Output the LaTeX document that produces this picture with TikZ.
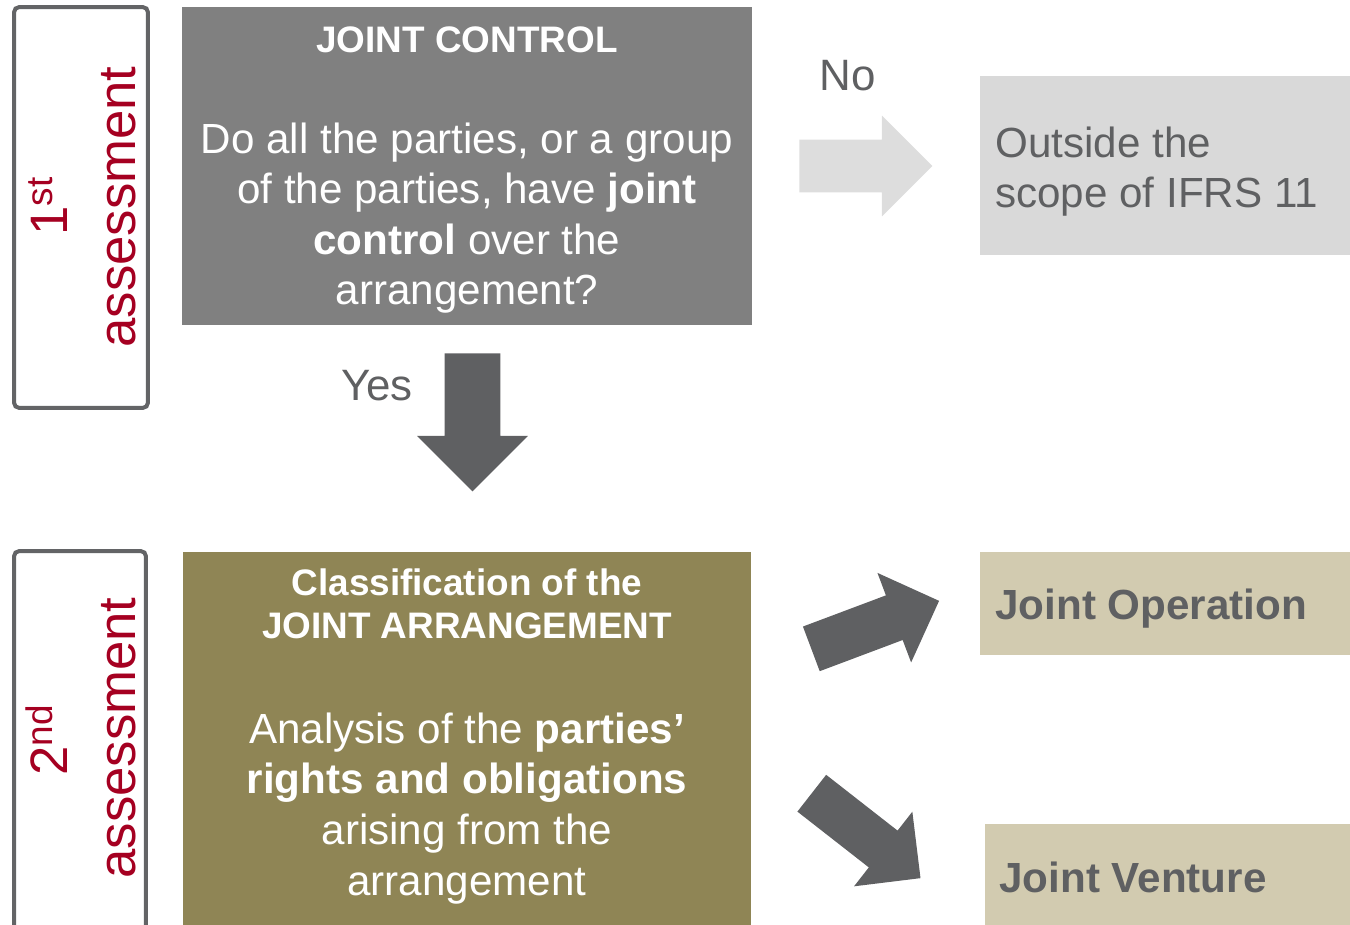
\documentclass[tikz,border=0pt]{standalone}
\usepackage{fontspec}
\setmainfont{Liberation Sans}
\usetikzlibrary{shapes.arrows}

\definecolor{ctrlgray}{HTML}{808080}
\definecolor{scopegray}{HTML}{D9D9D9}
\definecolor{arrowlight}{HTML}{DDDDDD}
\definecolor{arrowdark}{HTML}{5F6062}
\definecolor{jaolive}{HTML}{8F8555}
\definecolor{jatan}{HTML}{D2CBB0}
\definecolor{stagered}{HTML}{A50021}
\definecolor{textgray}{HTML}{5F6062}
\definecolor{framegray}{HTML}{636466}

\begin{document}
\begin{tikzpicture}[x=0.02cm, y=-0.02cm,
  stagebox/.style={draw=framegray, line width=0.08cm, rounded corners=3pt, rectangle, inner sep=0pt},
  stagetext/.style={rotate=90, anchor=base, text=stagered, font=\fontsize{30}{36}\selectfont},
  box/.style={rectangle, inner sep=0pt},
  bodytext/.style={anchor=base, align=center, inner sep=0pt, text=white, font=\fontsize{24}{28.8}\selectfont},
  titletext/.style={anchor=base, align=center, inner sep=0pt, text=white, font=\bfseries\fontsize{21}{25}\selectfont},
  answer/.style={anchor=base, text=textgray, font=\fontsize{25}{30}\selectfont},
  result/.style={anchor=base west, inner sep=0pt, text=textgray, font=\bfseries\fontsize{24}{29}\selectfont},
  blockarrow/.style={single arrow, single arrow head extend=0.48cm, inner xsep=0pt, anchor=tail, fill=arrowdark}]
  \clip (0,0) rectangle (1350,925);

  % 1st assessment
  \node[stagebox, minimum width=2.68cm, minimum height=8.02cm] (stage1) at (81,207.5) {};
  \node[stagetext] (num1) at (68,206) {1\textsuperscript{st}};
  \node[stagetext] (word1) at (135,207) {assessment};

  \node[box, fill=ctrlgray, minimum width=11.4cm, minimum height=6.36cm] (ctrl) at (467,166) {};
  \node[titletext] (ctrltitle) at (467,53) {JOINT CONTROL};
  % base of a multi-line node = last line
  \node[bodytext] (ctrlbody) at (467,305) {Do all the parties, or a group\\of the parties, have \textbf{joint}\\\textbf{control} over the\\arrangement?};

  % No
  \node[blockarrow, fill=arrowlight, inner ysep=0.52cm, minimum height=2.66cm] (noarrow) at (799,166) {};
  \node[answer] (no) at (848,91) {No};
  \node[box, fill=scopegray, minimum width=7.6cm, minimum height=3.58cm] (scope) at (1170,165.5) {};
  \node[anchor=base west, align=left, inner sep=0pt, text=textgray, font=\fontsize{24}{29}\selectfont] (scopetext) at (995,208) {Outside the\\scope of IFRS 11};

  % Yes
  \node[blockarrow, rotate=-90, inner ysep=0.55cm, single arrow head extend=0.55cm, minimum height=2.76cm] (yesarrow) at (472.5,353) {};
  \node[answer] (yes) at (377,401) {Yes};

  % 2nd assessment
  \node[stagebox, minimum width=2.64cm, minimum height=8.18cm] (stage2) at (80,755.5) {};
  \node[stagetext] (num2) at (68,740) {2\textsuperscript{nd}};
  \node[stagetext] (word2) at (135,738) {assessment};

  \node[box, fill=jaolive, minimum width=11.36cm, minimum height=7.76cm] (classbox) at (467,746) {};
  \node[titletext] (classtitle) at (467,639) {Classification of the\\JOINT ARRANGEMENT};
  \node[bodytext] (classbody) at (467,895) {Analysis of the \textbf{parties'}\\\textbf{rights and obligations}\\arising from the\\arrangement};

  % Joint operation / joint venture
  \node[blockarrow, rotate=20.6, inner ysep=0.47cm, minimum height=2.73cm] (oparrow) at (811,649) {};
  \node[blockarrow, rotate=-38, inner ysep=0.46cm, minimum height=2.76cm] (jvarrow) at (811.5,793) {};
  \node[box, fill=jatan, minimum width=7.6cm, minimum height=2.06cm] (jo) at (1170,603.5) {};
  \node[result] (jotext) at (995,620) {Joint Operation};
  \node[box, fill=jatan, minimum width=7.5cm, minimum height=2.32cm] (jv) at (1172.5,882) {};
  \node[result] (jvtext) at (999,892) {Joint Venture};
\end{tikzpicture}
\end{document}
